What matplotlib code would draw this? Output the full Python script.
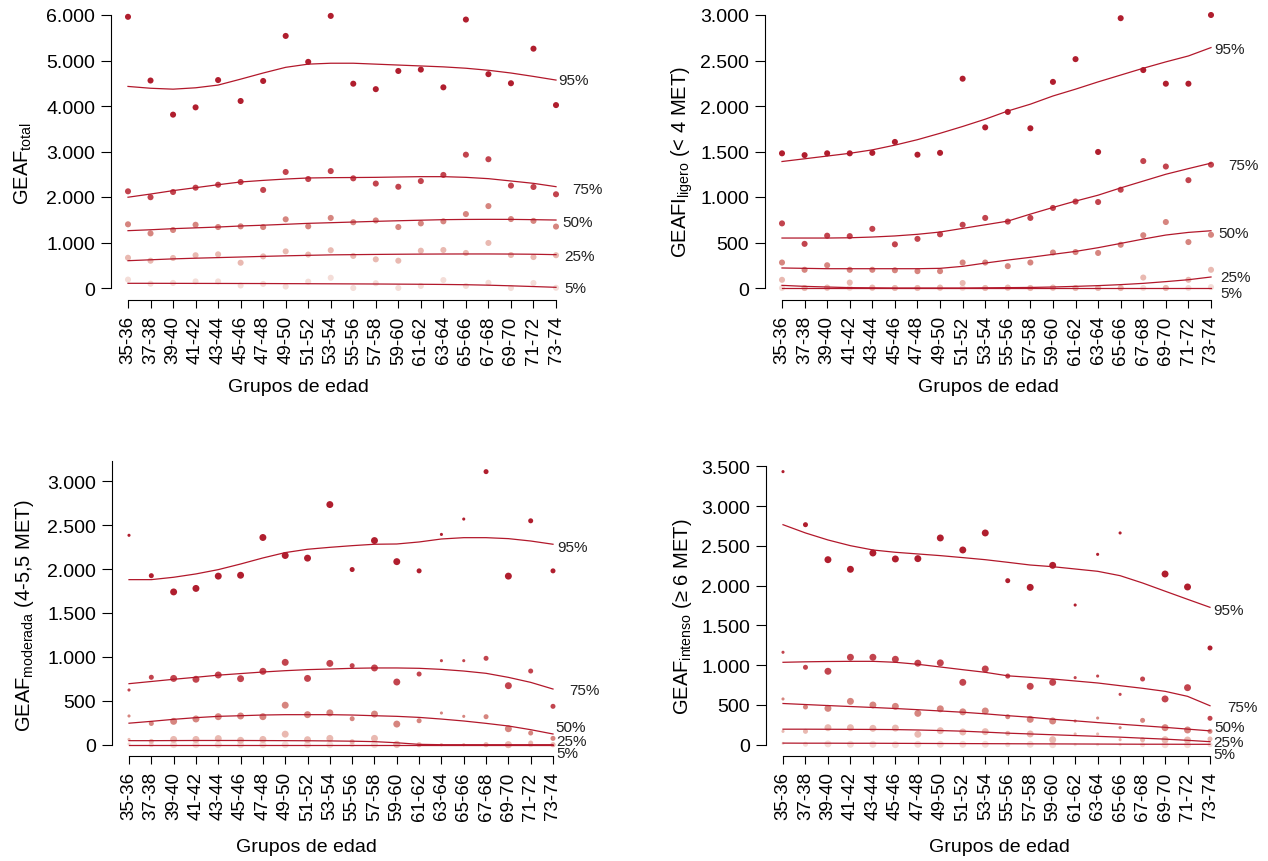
import numpy as np
import matplotlib
matplotlib.use("Agg")
import matplotlib.pyplot as plt

plt.rcParams['font.family'] = ['Liberation Sans', 'DejaVu Sans']
plt.rcParams['mathtext.fontset'] = 'custom'
plt.rcParams['mathtext.rm'] = 'Liberation Sans'
plt.rcParams['mathtext.it'] = 'Liberation Sans:italic'

# ------------------------------------------------------------------
# datos
# ------------------------------------------------------------------
edades = ['35-36', '37-38', '39-40', '41-42', '43-44', '45-46', '47-48', '49-50',
          '51-52', '53-54', '55-56', '57-58', '59-60', '61-62', '63-64', '65-66',
          '67-68', '69-70', '71-72', '73-74']
percentiles = ['95%', '75%', '50%', '25%', '5%']

# GEAF total
total_p95 = [5960, 4560, 3810, 3970, 4570, 4110, 4550, 5540, 4970, 5980, 4490, 4370, 4770, 4800, 4410, 5900, 4700, 4500, 5260, 4020]
total_p75 = [2125, 1995, 2110, 2205, 2270, 2330, 2155, 2550, 2395, 2570, 2410, 2295, 2225, 2350, 2485, 2930, 2830, 2250, 2220, 2060]
total_p50 = [1400, 1200, 1275, 1390, 1340, 1355, 1340, 1510, 1355, 1540, 1445, 1485, 1340, 1420, 1465, 1625, 1800, 1515, 1475, 1350]
total_p25 = [665, 600, 660, 720, 740, 555, 695, 805, 735, 830, 705, 630, 600, 820, 835, 770, 990, 725, 680, 720]
total_p5 = [185, 95, 112, 145, 145, 55, 90, 32, 140, 225, 0, 105, 0, 45, 175, 45, 115, 0, 110, 5]
total_s95 = [4430, 4390, 4370, 4400, 4460, 4590, 4725, 4850, 4920, 4940, 4940, 4920, 4900, 4880, 4860, 4830, 4785, 4725, 4650, 4570]
total_s75 = [1995, 2065, 2140, 2205, 2270, 2330, 2365, 2395, 2418, 2425, 2428, 2432, 2440, 2447, 2447, 2432, 2403, 2352, 2300, 2227]
total_s50 = [1260, 1280, 1304, 1322, 1340, 1363, 1380, 1400, 1421, 1435, 1450, 1465, 1478, 1490, 1502, 1507, 1509, 1508, 1502, 1494]
total_s25 = [600, 620, 640, 655, 668, 681, 695, 707, 718, 728, 733, 738, 742, 745, 747, 748, 748, 746, 742, 733]
total_s5 = [103, 103, 102, 101, 100, 99, 98, 96, 94, 92, 90, 88, 85, 82, 78, 72, 62, 48, 32, 15]

# GEAFI ligero (< 4 MET)
ligero_p95 = [1480, 1460, 1480, 1480, 1485, 1605, 1465, 1485, 2300, 1765, 1935, 1755, 2265, 2515, 1495, 2965, 2395, 2245, 2245, 3000]
ligero_p75 = [710, 485, 575, 570, 650, 480, 540, 590, 695, 770, 730, 770, 880, 950, 945, 1080, 1395, 1335, 1185, 1355]
ligero_p50 = [280, 200, 250, 200, 200, 195, 185, 185, 280, 280, 240, 280, 390, 395, 385, 475, 580, 725, 505, 585]
ligero_p25 = [90, 0, 5, 60, 5, 0, 0, 5, 55, 0, 5, 0, 5, 0, 0, 0, 115, 0, 90, 200]
ligero_p5 = [0, 0, 0, 0, 0, 0, 0, 0, 0, 0, 0, 0, 0, 0, 0, 0, 0, 0, 0, 10]
ligero_s95 = [1390, 1420, 1450, 1480, 1518, 1570, 1630, 1700, 1775, 1855, 1945, 2020, 2110, 2185, 2265, 2340, 2415, 2485, 2550, 2642]
ligero_s75 = [549, 549, 549, 552, 560, 572, 590, 615, 655, 695, 735, 812, 885, 955, 1020, 1100, 1175, 1250, 1312, 1372]
ligero_s50 = [220, 216, 212, 212, 212, 212, 212, 216, 238, 274, 307, 337, 370, 402, 443, 490, 538, 582, 611, 629]
ligero_s25 = [29, 18, 11, 4, 2, 0, 0, 0, 0, 2, 4, 6, 11, 18, 26, 37, 51, 70, 91, 121]
ligero_s5 = [-5, -5, -5, -5, -5, -5, -5, -5, -5, -5, -5, -5, -5, -5, -5, -5, -5, -5, -5, -5]

# GEAF moderada (4-5,5 MET)
moder_p95 = [2385, 1925, 1740, 1780, 1920, 1930, 2360, 2155, 2125, 2735, 1995, 2325, 2085, 1980, 2395, 2570, 3110, 1920, 2550, 1980]
moder_p75 = [623, 768, 755, 745, 794, 752, 836, 938, 755, 926, 900, 874, 714, 805, 957, 957, 984, 672, 839, 437]
moder_p50 = [327, 242, 266, 293, 319, 327, 319, 450, 342, 363, 296, 349, 235, 273, 361, 323, 319, 182, 133, 72]
moder_p25 = [60, 38, 60, 60, 70, 50, 60, 120, 57, 72, 34, 72, 5, 0, 0, 0, 0, 0, 19, 0]
moder_p5 = [8, 0, 0, 0, 0, 0, 0, 0, 0, 0, 0, 0, 0, 0, 0, 0, 0, 0, 0, 0]
moder_s95 = [1880, 1880, 1907, 1945, 1994, 2058, 2127, 2188, 2226, 2248, 2267, 2283, 2286, 2309, 2343, 2358, 2358, 2347, 2320, 2283]
moder_s75 = [695, 720, 745, 768, 792, 810, 828, 843, 855, 862, 870, 874, 874, 870, 858, 839, 813, 767, 710, 634]
moder_s50 = [245, 266, 289, 308, 323, 330, 338, 342, 342, 342, 338, 330, 323, 311, 292, 270, 243, 213, 171, 122]
moder_s25 = [46, 46, 47, 48, 48, 48, 47, 46, 45, 43, 40, 35, 22, 4, 0, 0, 0, 0, 0, 0]
moder_s5 = [0, 0, 0, 0, 0, 0, 0, 0, 0, 0, 0, 0, 0, 0, 0, 0, 0, 0, 0, 0]
moder_peso = ['S', 'M', 'L', 'L', 'L', 'L', 'L', 'L', 'L', 'L', 'M', 'L', 'L', 'M', 'S', 'S', 'M', 'L', 'M', 'M']

# GEAF intenso (>= 6 MET)
intenso_p95 = [3433, 2766, 2326, 2205, 2410, 2335, 2339, 2599, 2448, 2662, 2062, 1978, 2255, 1756, 2393, 2662, np.nan, 2146, 1983, 1216]
intenso_p75 = [1162, 973, 923, 1099, 1099, 1074, 1025, 1029, 784, 952, 863, 734, 784, 843, 863, 633, 826, 575, 717, 332]
intenso_p50 = [575, 474, 457, 545, 499, 482, 394, 451, 413, 424, 352, 319, 298, 298, 335, 214, 306, 214, 185, 168]
intenso_p25 = [168, 168, 214, 214, 206, 209, 131, 176, 160, 164, 143, 135, 63, 135, 135, 63, 63, 63, 59, 72]
intenso_p5 = [17, 5, 10, 5, 5, 0, 5, 5, 5, 5, 0, 5, 0, 0, 0, 0, 0, 0, 0, 0]
intenso_s95 = [2766, 2662, 2574, 2502, 2448, 2419, 2398, 2377, 2352, 2326, 2293, 2259, 2238, 2209, 2180, 2125, 2033, 1930, 1828, 1727]
intenso_s75 = [1036, 1042, 1046, 1048, 1048, 1036, 1011, 977, 943, 910, 866, 847, 826, 801, 776, 742, 709, 671, 608, 490]
intenso_s50 = [518, 505, 492, 480, 468, 455, 440, 424, 408, 388, 365, 345, 320, 300, 278, 258, 238, 218, 196, 174]
intenso_s25 = [195, 195, 194, 193, 192, 190, 185, 178, 170, 158, 145, 135, 125, 115, 105, 95, 82, 70, 55, 38]
intenso_s5 = [20, 19, 19, 18, 18, 17, 16, 15, 14, 13, 12, 11, 10, 9, 8, 7, 6, 6, 5, 5]
intenso_peso = ['S', 'M', 'L', 'L', 'L', 'L', 'L', 'L', 'L', 'L', 'M', 'L', 'L', 'S', 'S', 'S', 'M', 'L', 'L', 'M']

# ------------------------------------------------------------------
# estilo
# ------------------------------------------------------------------
W, H = 1268, 862
col_puntos = ['#B01E2E', '#C2444E', '#D6857F', '#E9B9B1', '#F4DDD8']
col_linea = '#B2182B'
tam = {'S': 5, 'M': 13, 'L': 25, 'U': 19}

paneles = [
    dict(puntos=[total_p95, total_p75, total_p50, total_p25, total_p5],
         curvas=[total_s95, total_s75, total_s50, total_s25, total_s5],
         peso=['U'] * 20, caja=(111, 573, 8, 301), y0=289, ytop=(6000, 16),
         ticks=[0, 1000, 2000, 3000, 4000, 5000, 6000], spine_top=6000,
         ylab=r'$\mathrm{GEAF}_{\mathrm{total}}$', ylab_pos=(23, 164), xlab_pos=(298, 387),
         etiquetas=[(19.1, 4570), (19.7, 2175), (19.28, 1455), (19.37, 700), (19.37, 0)]),
    dict(puntos=[ligero_p95, ligero_p75, ligero_p50, ligero_p25, ligero_p5],
         curvas=[ligero_s95, ligero_s75, ligero_s50, ligero_s25, ligero_s5],
         peso=['U'] * 20, caja=(765, 1228, 8, 301), y0=289, ytop=(3000, 16),
         ticks=[0, 500, 1000, 1500, 2000, 2500, 3000], spine_top=3000,
         ylab=r'$\mathrm{GEAFI}_{\mathrm{ligero}}$ (< 4 MET)', ylab_pos=(682, 162), xlab_pos=(988, 387),
         etiquetas=[(19.13, 2623), (19.75, 1354), (19.32, 600), (19.4, 117), (19.4, -55)]),
    dict(puntos=[moder_p95, moder_p75, moder_p50, moder_p25, moder_p5],
         curvas=[moder_s95, moder_s75, moder_s50, moder_s25, moder_s5],
         peso=moder_peso, caja=(112, 570, 462, 757), y0=745.7, ytop=(3000, 482.3),
         ticks=[0, 500, 1000, 1500, 2000, 2500, 3000], spine_top=None,
         ylab=r'$\mathrm{GEAF}_{\mathrm{moderada}}$ (4-5,5 MET)', ylab_pos=(25, 616), xlab_pos=(306, 848),
         etiquetas=[(19.2, 2248), (19.74, 627), (19.1, 205), (19.15, 46), (19.15, -99)]),
    dict(puntos=[intenso_p95, intenso_p75, intenso_p50, intenso_p25, intenso_p5],
         curvas=[intenso_s95, intenso_s75, intenso_s50, intenso_s25, intenso_s5],
         peso=intenso_peso, caja=(766, 1227, 462, 757), y0=745.7, ytop=(3500, 467.3),
         ticks=[0, 500, 1000, 1500, 2000, 2500, 3000, 3500], spine_top=3500,
         ylab=r'$\mathrm{GEAF}_{\mathrm{intenso}}$ (≥ 6 MET)', ylab_pos=(682, 617), xlab_pos=(999, 848),
         etiquetas=[(19.13, 1693), (19.75, 469), (19.2, 218), (19.13, 29), (19.13, -117)]),
]


def miles(v):
    return f'{int(v):,}'.replace(',', '.')


fig = plt.figure(figsize=(W / 100, H / 100), dpi=100)
x = np.arange(len(edades))

for p in paneles:
    l, r, t, b = p['caja']
    ax = fig.add_axes([l / W, 1 - b / H, (r - l) / W, (b - t) / H])
    # escala: primer grupo en l+17 px, ultimo en r-17 px
    dx = (r - l - 34) / 19
    ax.set_xlim(-17 / dx, 19 + 17 / dx)
    ymax, ypx = p['ytop']
    k = (p['y0'] - ypx) / ymax
    ax.set_ylim((p['y0'] - b) / k, (p['y0'] - t) / k)

    s = [tam[c] for c in p['peso']]
    for i in range(4, -1, -1):
        ax.scatter(x, p['puntos'][i], s=s, color=col_puntos[i], edgecolors='none', zorder=2)
    for i in range(5):
        ax.plot(x, p['curvas'][i], color=col_linea, lw=0.9, zorder=3)
    for (lx, ly), txt in zip(p['etiquetas'], percentiles):
        ax.text(lx, ly, txt, ha='left', va='center', fontsize=11, color='#222222', zorder=4)

    for sp in ['top', 'right']:
        ax.spines[sp].set_visible(False)
    ax.spines['left'].set_bounds(0, p['spine_top'] if p['spine_top'] else ax.get_ylim()[1])
    ax.spines['bottom'].set_bounds(0, 19)
    for sp in ['left', 'bottom']:
        ax.spines[sp].set_linewidth(0.8)

    ax.set_xticks(x)
    ax.set_xticklabels(edades, rotation=90, fontsize=13.5)
    ax.set_yticks(p['ticks'])
    ax.set_yticklabels([miles(v) for v in p['ticks']], fontsize=14)
    ax.tick_params(axis='x', length=6, width=0.8, pad=5)
    ax.tick_params(axis='y', length=7.5, width=0.8, pad=4)
    ax.patch.set_visible(False)

    fig.text(p['ylab_pos'][0] / W, 1 - p['ylab_pos'][1] / H, p['ylab'], rotation=90,
             ha='center', va='center', fontsize=14.5)
    fig.text(p['xlab_pos'][0] / W, 1 - p['xlab_pos'][1] / H, 'Grupos de edad',
             ha='center', va='center', fontsize=14)

fig.savefig('out.png', dpi=100, facecolor='white')
